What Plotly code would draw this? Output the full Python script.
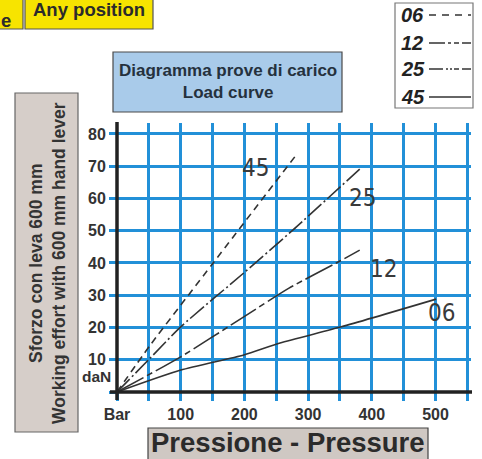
import plotly.graph_objects as go

# ---- data ----
x45 = [0, 52, 151, 279]
y45 = [0, 14.5, 40, 72.9]
x25 = [0, 52, 100, 199, 276, 381]
y25 = [0, 10.5, 20.2, 36.9, 50.2, 69.1]
x12 = [0, 100, 199, 270, 350, 381]
y12 = [0, 10.9, 23.3, 32.2, 40.6, 44.0]
x06 = [0, 100, 199, 256, 352, 501]
y06 = [0, 6.8, 11.5, 15.2, 20.2, 28.8]

curve_names = ["45", "25", "12", "06"]
label_pos = [(218, 69.5), (386, 60.1), (419, 38.0), (509, 24.5)]

x_ticks = [0, 50, 100, 150, 200, 250, 300, 350, 400, 450, 500, 550]
x_ticktext = ["Bar", "", "100", "", "200", "", "300", "", "400", "", "500", ""]
y_ticks = [0, 10, 20, 30, 40, 50, 60, 70, 80]
y_ticktext = ["", "10", "20", "30", "40", "50", "60", "70", "80"]

legend_items = ["06", "12", "25", "45"]
legend_dash = ["7px,6px", "16px,3px,3px,3px,5px,3px", "14px,3px,2px,2px,2px,2px,5px,3px", "solid"]

W, H = 482, 459
def X(px): return px / W
def Y(py): return 1 - py / H

BLUE = "#2290d8"
INK = "#333333"
BOLD = "Liberation Sans, Arial"

fig = go.Figure()
styles = [
    dict(x=x45, y=y45, dash="7px,5px"),
    dict(x=x25, y=y25, dash="18px,3px,2px,3px"),
    dict(x=x12, y=y12, dash="30px,4px,6px,4px"),
    dict(x=x06, y=y06, dash="solid"),
]
for s, name in zip(styles, curve_names):
    fig.add_trace(go.Scatter(x=s["x"], y=s["y"], mode="lines", name=name,
                             line=dict(color=INK, width=1.6, dash=s["dash"], shape="spline", smoothing=0.6),
                             showlegend=False, hoverinfo="skip"))

for name, (lx, ly) in zip(curve_names, label_pos):
    fig.add_annotation(x=lx, y=ly, xref="x", yref="y", text=name, showarrow=False,
                       xanchor="center", yanchor="middle",
                       font=dict(family="Liberation Sans Narrow, DejaVu Sans Condensed", size=24, color="#3a3a3a"))

shapes = []
# black axis lines
shapes.append(dict(type="line", xref="paper", yref="paper", x0=X(110), x1=X(472), y0=Y(392), y1=Y(392),
                   line=dict(color="#222222", width=3.5), layer="above"))
shapes.append(dict(type="line", xref="paper", yref="paper", x0=X(117), x1=X(117), y0=Y(122), y1=Y(400),
                   line=dict(color="#222222", width=3.5), layer="above"))
# title box
shapes.append(dict(type="rect", xref="paper", yref="paper", x0=X(113), x1=X(342), y0=Y(52), y1=Y(112),
                   fillcolor="#a9cbea", line=dict(color="#4a4a4a", width=1.2), layer="below"))
# y label box
shapes.append(dict(type="rect", xref="paper", yref="paper", x0=X(15), x1=X(78), y0=Y(93), y1=Y(432),
                   fillcolor="#d6cec9", line=dict(color="#666666", width=1.2), layer="below"))
# pressure box
shapes.append(dict(type="rect", xref="paper", yref="paper", x0=X(148), x1=X(428), y0=Y(428), y1=Y(462),
                   fillcolor="#cfc8c3", line=dict(color="#444444", width=1.2), layer="below"))
# yellow boxes
shapes.append(dict(type="rect", xref="paper", yref="paper", x0=X(-10), x1=X(23), y0=Y(-5), y1=Y(29),
                   fillcolor="#f7e400", line=dict(color="#555555", width=1.2), layer="below"))
shapes.append(dict(type="rect", xref="paper", yref="paper", x0=X(25), x1=X(153), y0=Y(-5), y1=Y(29),
                   fillcolor="#f7e400", line=dict(color="#555555", width=1.2), layer="below"))
# legend box
shapes.append(dict(type="rect", xref="paper", yref="paper", x0=X(395), x1=X(473), y0=Y(3), y1=Y(108),
                   fillcolor="white", line=dict(color="#777777", width=1.2), layer="below"))
legend_y = [15, 43, 69, 97]
for ly, d in zip(legend_y, legend_dash):
    shapes.append(dict(type="line", xref="paper", yref="paper", x0=X(429), x1=X(471), y0=Y(ly), y1=Y(ly),
                       line=dict(color=INK, width=1.5, dash=d)))

def note(px, py, text, size, color="#2b2b2b", weight="bold", xanchor="center", angle=0, family=BOLD):
    fig.add_annotation(x=X(px), y=Y(py), xref="paper", yref="paper", showarrow=False,
                       xanchor=xanchor, yanchor="middle", textangle=angle, text=text,
                       font=dict(family=family, size=size, color=color, weight=weight))

for ly, t in zip(legend_y, legend_items):
    note(399, ly, "<i>" + t + "</i>", 20, color="#222222", xanchor="left")

note(228, 82, "Diagramma prove di carico<br>Load curve", 17, color="#25313d")
note(47, 263, "Sforzo con leva 600 mm<br>Working effort with 600 mm hand lever", 17.5, color="#333333", angle=-90)
note(288, 442, "Pressione - Pressure", 27.5)
note(89, 10, "Any position", 18.5)
note(-1, 21, "e", 18.5, xanchor="left")
note(113, 376, "daN", 15.5, color="#333333", xanchor="right")

fig.update_layout(
    width=W, height=H, margin=dict(l=0, r=0, t=0, b=0, autoexpand=False),
    paper_bgcolor="white", plot_bgcolor="white",
    shapes=shapes,
    xaxis=dict(domain=[X(117), X(471)], range=[0, 555.7], tickvals=x_ticks, ticktext=x_ticktext,
               automargin=False,
               showgrid=True, gridcolor=BLUE, gridwidth=2.5, zeroline=False, showline=False,
               ticks="outside", ticklen=8, tickwidth=2.5, tickcolor=BLUE,
               tickfont=dict(family=BOLD, size=16, color="#333333", weight="bold")),
    yaxis=dict(domain=[Y(392), Y(123)], range=[0, 83.4], tickvals=y_ticks, ticktext=y_ticktext,
               automargin=False,
               showgrid=True, gridcolor=BLUE, gridwidth=2.5, zeroline=False, showline=False,
               ticks="outside", ticklen=7, tickwidth=2.5, tickcolor=BLUE,
               tickfont=dict(family=BOLD, size=16, color="#333333", weight="bold")),
)

fig.write_html("out.html", config={"displayModeBar": False},
               post_script="document.body.style.margin='0';document.body.style.overflow='hidden';")
